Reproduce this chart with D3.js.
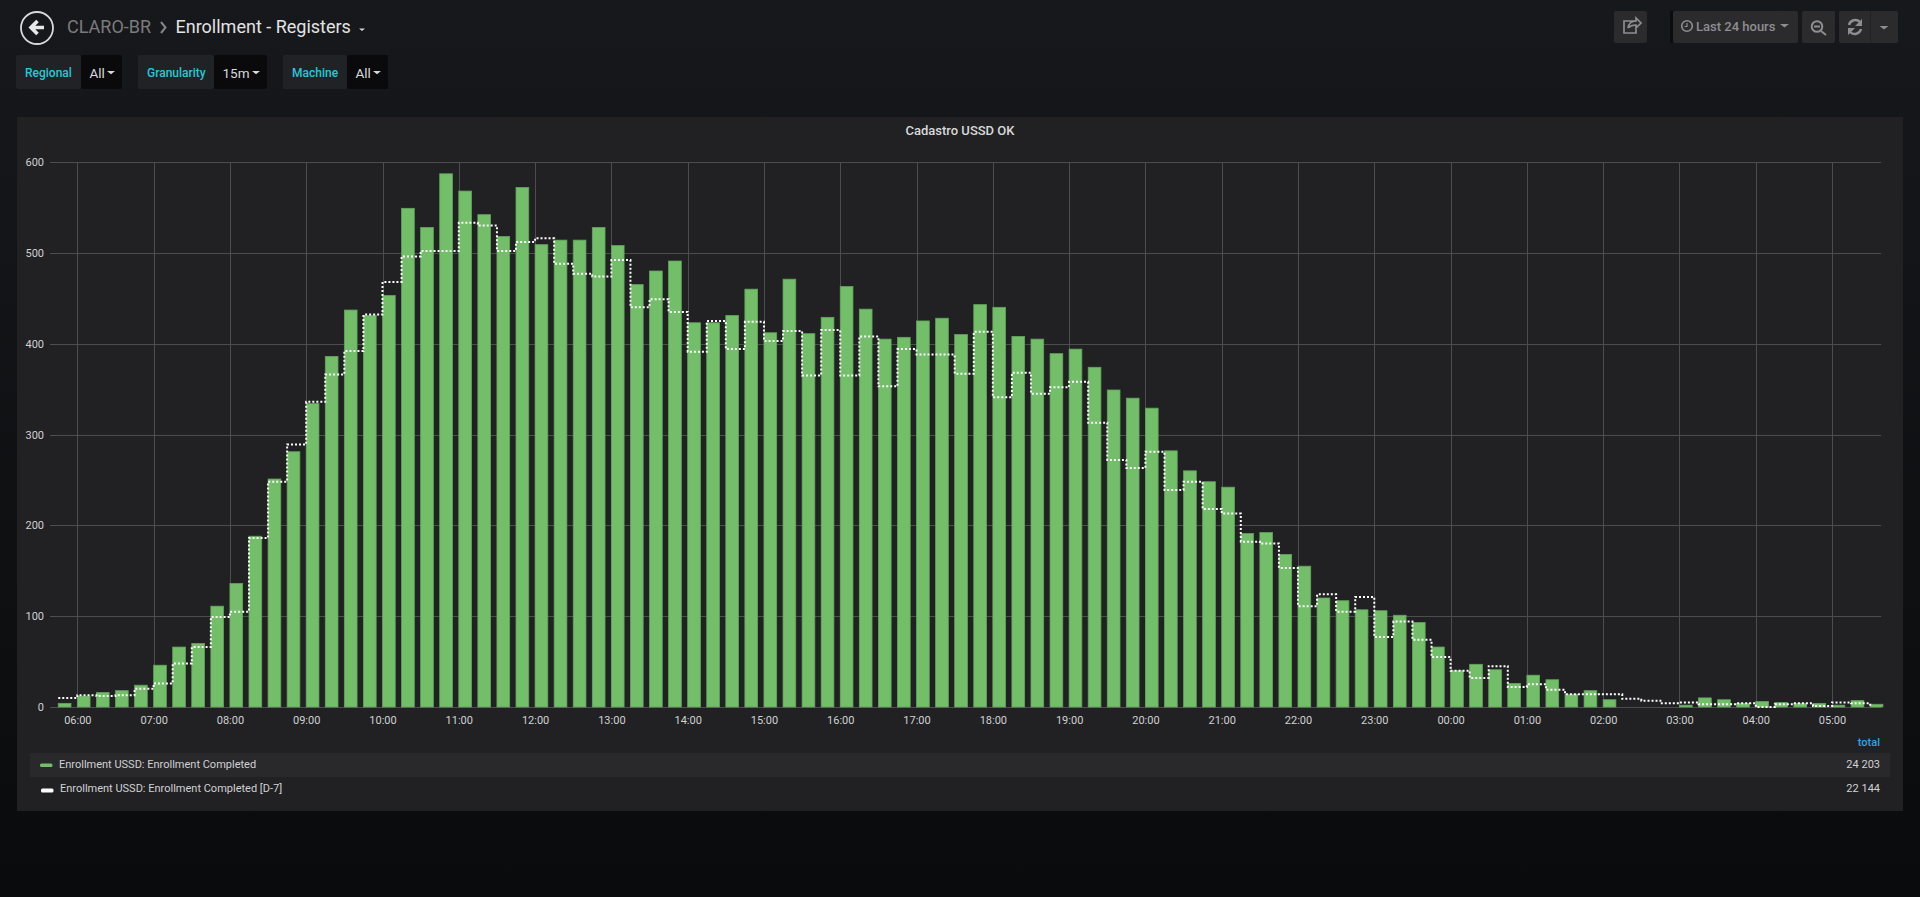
<!DOCTYPE html>
<html>
<head>
<meta charset="utf-8">
<title>Enrollment - Registers</title>
<script src="https://cdn.jsdelivr.net/npm/d3@7"></script>
<style>
  html, body { margin: 0; padding: 0; background: #0b0c0e; overflow: hidden; }
  text { font-family: Roboto, sans-serif; }
</style>
</head>
<body>
<script>
// one value per 15 minutes, first bucket is 05:45
var completed = [
  4, 12, 16, 18, 24, 46, 66, 70, 111, 136, 188, 251,
  281, 334, 386, 437, 431, 453, 549, 528, 587, 568, 542, 518,
  572, 509, 514, 514, 528, 508, 465, 480, 491, 423, 423, 431,
  460, 412, 471, 411, 429, 463, 438, 405, 407, 425, 428, 410,
  443, 440, 408, 405, 389, 394, 374, 349, 340, 329, 282, 260,
  248, 242, 191, 192, 168, 155, 120, 117, 107, 106, 101, 93,
  66, 40, 47, 41, 26, 35, 30, 14, 18, 8, 0, 0,
  0, 2, 10, 8, 4, 6, 5, 4, 4, 2, 7, 3
];
var completedD7 = [
  10, 13, 12, 13, 20, 26, 48, 66, 99, 105, 186, 248,
  289, 336, 366, 392, 432, 468, 496, 502, 502, 533, 530, 502,
  512, 516, 488, 477, 474, 492, 440, 449, 435, 391, 425, 394,
  424, 403, 414, 365, 415, 365, 408, 353, 394, 388, 388, 367,
  413, 341, 368, 345, 352, 358, 313, 272, 263, 281, 239, 248,
  218, 213, 182, 180, 153, 111, 124, 105, 121, 77, 94, 74,
  55, 40, 32, 45, 22, 25, 19, 14, 14, 14, 9, 7,
  4, 5, 3, 3, 4, 0, 3, 4, 1, 5, 4, 1
];
var yTicks = [0, 100, 200, 300, 400, 500, 600];
var legendNames = ['Enrollment USSD: Enrollment Completed', 'Enrollment USSD: Enrollment Completed [D-7]'];
var legendTotals = ['24 203', '22 144'];
var legendColors = ['#73bf69', '#ffffff'];
var filters = [
  {label: 'Regional', value: 'All', x: 16, split: 81, end: 122},
  {label: 'Granularity', value: '15m', x: 138, split: 214, end: 267},
  {label: 'Machine', value: 'All', x: 283, split: 347, end: 388}
];

var firstBucket = Date.UTC(2019, 0, 1, 5, 45);
var step = 15 * 60 * 1000;
var time = i => new Date(firstBucket + i * step);

var svg = d3.select('body')
  .append('svg')
  .attr('width', 1920)
  .attr('height', 897)
  .style('display', 'block');

var grad = svg.append('defs').append('linearGradient')
  .attr('id', 'bg').attr('x1', 0).attr('x2', 0).attr('y1', 0).attr('y2', 1);
grad.append('stop').attr('offset', '0%').attr('stop-color', '#17181b');
grad.append('stop').attr('offset', '100%').attr('stop-color', '#0a0b0d');
svg.append('rect').attr('width', 1920).attr('height', 897).attr('fill', 'url(#bg)');

function caret(g, cx, cy, w, color) {
  g.append('path')
    .attr('d', `M${cx - w},${cy} L${cx + w},${cy} L${cx},${cy + w * 0.8} Z`)
    .attr('fill', color);
}

// header
var head = svg.append('g');
head.append('circle').attr('cx', 37).attr('cy', 28).attr('r', 16)
  .attr('fill', 'none').attr('stroke', '#d8d9da').attr('stroke-width', 1.8);
head.append('path').attr('d', 'M44,27.5 H32 M37.5,21 L31,27.5 L37.5,34')
  .attr('fill', 'none').attr('stroke', '#e8e8e8').attr('stroke-width', 3.6);
head.append('text').attr('x', 67).attr('y', 33).attr('font-size', 18)
  .attr('fill', '#7b7b7b').text('CLARO-BR');
head.append('path').attr('d', 'M161,22 L165.5,27.5 L161,33')
  .attr('fill', 'none').attr('stroke', '#868686').attr('stroke-width', 2);
head.append('text').attr('x', 175.5).attr('y', 33).attr('font-size', 18)
  .attr('fill', '#e3e3e3').text('Enrollment - Registers');
caret(head, 362, 28.5, 3, '#d8d9da');

// template variables
filters.forEach(f => {
  var g = svg.append('g');
  g.append('rect').attr('x', f.x).attr('y', 55).attr('width', f.split - f.x).attr('height', 34)
    .attr('rx', 2).attr('fill', '#212226');
  g.append('rect').attr('x', f.split).attr('y', 55).attr('width', f.end - f.split).attr('height', 34)
    .attr('rx', 2).attr('fill', '#0a0a0c');
  g.append('text').attr('x', f.x + 9).attr('y', 77).attr('font-size', 12).attr('font-weight', 500)
    .attr('fill', '#2ac6d8').text(f.label);
  g.append('text').attr('x', f.split + 8.5).attr('y', 78).attr('font-size', 13.5)
    .attr('fill', '#d8d9da').text(f.value);
  caret(g, f.end - 11, 71, 4, '#d8d9da');
});

// toolbar
var tool = svg.append('g');
[[1614, 33], [1673, 125], [1802, 33], [1839, 59]].forEach(b => {
  tool.append('rect').attr('x', b[0]).attr('y', 11).attr('width', b[1]).attr('height', 32)
    .attr('rx', 2).attr('fill', '#2b2b2e');
});
tool.append('rect').attr('x', 1670).attr('y', 11).attr('width', 3).attr('height', 32).attr('fill', '#0c0c0e');
tool.append('path').attr('d', 'M1636,21 h-12 v12 h12 v-4 M1628,28 q1,-7 8,-7 v-3 l5,5 l-5,5 v-3 q-5,0 -8,3')
  .attr('fill', 'none').attr('stroke', '#8e8e8e').attr('stroke-width', 1.7);
tool.append('circle').attr('cx', 1687).attr('cy', 26).attr('r', 5.3)
  .attr('fill', 'none').attr('stroke', '#8e8e8e').attr('stroke-width', 1.6);
tool.append('path').attr('d', 'M1687,23 v3.5 h-2.5').attr('fill', 'none').attr('stroke', '#8e8e8e').attr('stroke-width', 1.2);
tool.append('text').attr('x', 1696).attr('y', 31).attr('font-size', 13).attr('font-weight', 500)
  .attr('fill', '#8e8e8e').text('Last 24 hours');
caret(tool, 1784.5, 24, 4.5, '#8e8e8e');
tool.append('circle').attr('cx', 1817).attr('cy', 26.5).attr('r', 5.3)
  .attr('fill', 'none').attr('stroke', '#8e8e8e').attr('stroke-width', 2);
tool.append('path').attr('d', 'M1814,26.5 h6 M1821,31 l5,4').attr('stroke', '#8e8e8e').attr('stroke-width', 2);
tool.append('path').attr('d', 'M1849,25 a6.5,6.5 0 0 1 11,-3 M1861,29 a6.5,6.5 0 0 1 -11,3')
  .attr('fill', 'none').attr('stroke', '#8e8e8e').attr('stroke-width', 2.4);
tool.append('path').attr('d', 'M1862,19 v7 h-7 Z M1848,35 v-7 h7 Z').attr('fill', '#8e8e8e');
tool.append('rect').attr('x', 1870).attr('y', 11).attr('width', 1).attr('height', 32).attr('fill', '#222224');
caret(tool, 1884, 26, 4.5, '#8e8e8e');

// panel
svg.append('rect').attr('x', 17).attr('y', 117).attr('width', 1886).attr('height', 694)
  .attr('fill', '#212124');
svg.append('text').attr('x', 960).attr('y', 134.5).attr('text-anchor', 'middle')
  .attr('font-size', 13).attr('font-weight', 500).attr('fill', '#d8d9da')
  .text('Cadastro USSD OK');

// 24h on the axis, bars start just after its left end
var x = d3.scaleUtc()
  .domain([new Date(Date.UTC(2019, 0, 1, 5, 38, 30)), new Date(Date.UTC(2019, 0, 2, 5, 38, 30))])
  .range([50, 1881]);
var y = d3.scaleLinear()
  .domain([0, 600])
  .range([707, 162]);

var xAxis = d3.axisBottom(x)
  .ticks(d3.utcHour.every(1))
  .tickFormat(d3.utcFormat('%H:%M'))
  .tickSize(y(600) - y(0))
  .tickPadding(0);
var yAxis = d3.axisLeft(y)
  .tickValues(yTicks)
  .tickSize(0)
  .tickPadding(6);

var xg = svg.append('g').attr('transform', `translate(0,${y(0)})`).call(xAxis);
xg.select('.domain').remove();
xg.selectAll('.tick line').attr('y2', y(600) - y(0)).attr('stroke', '#4d4d50');
xg.selectAll('.tick text').attr('y', 9).attr('dy', '0.71em');

var yg = svg.append('g').attr('transform', `translate(50,0)`).call(yAxis);
yg.select('.domain').remove();
yg.selectAll('.tick line').attr('x2', 1831).attr('stroke', '#4d4d50');

svg.selectAll('.tick line').attr('shape-rendering', 'crispEdges');
svg.selectAll('.tick text').attr('fill', '#d0d1d2').attr('font-size', 11)
  .style('font-family', 'Roboto, sans-serif');

var barWidth = (x(time(1)) - x(time(0))) * 2 / 3;

svg.append('g')
  .selectAll('rect')
  .data(completed)
  .enter()
    .append('rect')
    .attr('x', (d, i) => x(time(i)))
    .attr('y', d => y(d))
    .attr('width', barWidth)
    .attr('height', d => y(0) - y(d))
    .attr('fill', '#73bf69')
    .attr('stroke', '#62a45b')
    .attr('stroke-width', d => d > 0 ? 0.8 : 0);

var line = d3.line()
  .x((d, i) => x(time(i)))
  .y(d => y(d))
  .curve(d3.curveStepAfter);

svg.append('path')
  .datum(completedD7)
  .attr('d', line)
  .attr('fill', 'none')
  .attr('stroke', '#ffffff')
  .attr('stroke-width', 2)
  .attr('stroke-dasharray', '2 2');

// legend
svg.append('text').attr('x', 1880).attr('y', 746).attr('text-anchor', 'end')
  .attr('font-size', 11).attr('font-weight', 500).attr('fill', '#33a5e0').text('total');
svg.append('rect').attr('x', 30).attr('y', 753).attr('width', 1860).attr('height', 24).attr('fill', '#29292c');

legendNames.forEach((name, i) => {
  var rowY = 765 + i * 24;
  svg.append('rect').attr('x', 40 + i).attr('y', rowY - 1.5 + i).attr('width', 12.5).attr('height', 3.5 + i * 0.5)
    .attr('rx', 1.5).attr('fill', legendColors[i]);
  svg.append('text').attr('x', 59 + i).attr('y', rowY + 2.5).attr('font-size', 11)
    .attr('fill', '#d0d1d2').text(name);
  svg.append('text').attr('x', 1880).attr('y', rowY + 2.5).attr('text-anchor', 'end')
    .attr('font-size', 11).attr('fill', '#d0d1d2').text(legendTotals[i]);
});
</script>
</body>
</html>
